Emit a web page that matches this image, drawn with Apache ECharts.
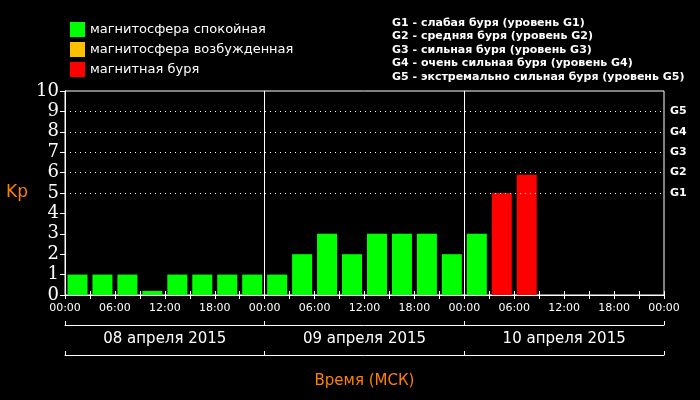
<!DOCTYPE html>
<html>
<head>
<meta charset="utf-8">
<script src="https://cdn.jsdelivr.net/npm/echarts@6/dist/echarts.min.js"></script>
<style>
  html, body { margin: 0; padding: 0; background: #000; }
  #chart { width: 700px; height: 400px; }
</style>
</head>
<body>
<div id="chart"></div>
<script>
// часы начала интервалов (3-часовые) с 00:00 08.04.2015
var hours = [0, 3, 6, 9, 12, 15, 18, 21, 24, 27, 30, 33, 36, 39, 42, 45, 48, 51, 54];
var kp = [1, 1, 1, 0.2, 1, 1, 1, 1, 1, 2, 3, 2, 3, 3, 3, 2, 3, 5, 5.9];
var dates = ['08 апреля 2015', '09 апреля 2015', '10 апреля 2015'];
var stormLevels = ['G1', 'G2', 'G3', 'G4', 'G5'];
var stormKp = [5, 6, 7, 8, 9];
var dayBounds = [24, 48];
var legendNames = ['магнитосфера спокойная', 'магнитосфера возбужденная', 'магнитная буря'];
var legendColors = ['#00ff00', '#ffc000', '#ff0000'];
var stormNotes = [
    'G1 - слабая буря (уровень G1)',
    'G2 - средняя буря (уровень G2)',
    'G3 - сильная буря (уровень G3)',
    'G4 - очень сильная буря (уровень G4)',
    'G5 - экстремально сильная буря (уровень G5)'
];

var chart = echarts.init(document.getElementById('chart'));

function bucket(test) {
    var out = [];
    for (var i = 0; i < kp.length; i++) {
        if (test(kp[i])) out.push([hours[i] + 1.5, kp[i]]);
    }
    return out;
}
var quiet = bucket(function (v) { return v < 4; });
var active = bucket(function (v) { return v >= 4 && v < 5; });
var storm = bucket(function (v) { return v >= 5; });

var levelLines = [];
for (var i = 0; i < stormKp.length; i++) levelLines.push({ yAxis: stormKp[i] });
var dayLines = [];
for (var j = 0; j < dayBounds.length; j++) dayLines.push({ xAxis: dayBounds[j] });

var font = 'DejaVu Sans';

var option = {
    backgroundColor: '#000',
    animation: false,
    textStyle: { fontFamily: font },
    legend: {
        orient: 'vertical',
        left: 65, top: 17,
        itemWidth: 15, itemHeight: 15, itemGap: 5,
        icon: 'rect',
        selectedMode: false,
        textStyle: { color: '#fff', fontSize: 13, fontFamily: font },
        data: legendNames
    },
    graphic: [{
        type: 'text', left: 392, top: 16,
        style: {
            text: stormNotes.join('\n'), fill: '#fff',
            font: 'bold 11px "DejaVu Sans"', lineHeight: 13.5
        }
    }],
    grid: { left: 65, right: 36, top: 91, bottom: 105, show: true, borderColor: '#fff', borderWidth: 1 },
    xAxis: [
        {
            type: 'value', min: 0, max: 72, interval: 3,
            axisLine: { lineStyle: { color: '#fff' } },
            axisTick: { inside: true, length: 4, lineStyle: { color: '#fff' } },
            axisLabel: {
                color: '#fff', fontSize: 11, margin: 8, showMinLabel: true, showMaxLabel: true,
                formatter: function (v) {
                    if (v % 6) return '';
                    var h = v % 24;
                    return (h < 10 ? '0' : '') + h + ':00';
                }
            },
            splitLine: { show: false }
        },
        {
            type: 'value', min: 0, max: 72, interval: 3, position: 'top',
            axisLine: { lineStyle: { color: '#fff' } },
            axisTick: { inside: true, length: 4, lineStyle: { color: '#fff' } },
            axisLabel: { show: false }, splitLine: { show: false }
        },
        {
            type: 'category', data: dates, position: 'bottom', offset: 30,
            axisLine: { show: true, lineStyle: { color: '#fff' } },
            axisTick: { show: true, inside: true, length: 4, lineStyle: { color: '#fff' } },
            axisLabel: { color: '#fff', fontSize: 15, margin: 7 }
        },
        {
            type: 'category', data: dates, position: 'bottom', offset: 60,
            axisLine: { show: true, lineStyle: { color: '#fff' } },
            axisTick: { show: true, inside: true, length: 4, lineStyle: { color: '#fff' } },
            axisLabel: { show: false },
            name: 'Время (МСК)', nameLocation: 'middle', nameGap: 19,
            nameTextStyle: { color: '#ff8000', fontSize: 15 }
        }
    ],
    yAxis: [
        {
            type: 'value', min: 0, max: 10, interval: 1,
            axisLine: { show: true, lineStyle: { color: '#fff' } },
            axisTick: { show: false },
            axisLabel: { color: '#fff', fontSize: 18, fontFamily: 'DejaVu Serif', margin: 6 },
            splitLine: { show: false },
            name: 'Kp', nameLocation: 'middle', nameRotate: 0, nameGap: 37,
            nameTextStyle: { color: '#ff8000', fontSize: 17 }
        },
        {
            type: 'value', min: 0, max: 10, interval: 1, position: 'right',
            axisLine: { show: true, lineStyle: { color: '#fff' } },
            axisTick: { show: true, inside: true, length: 5, lineStyle: { color: '#fff' } },
            axisLabel: {
                color: '#fff', fontSize: 11, fontWeight: 'bold', margin: 6,
                formatter: function (v) {
                    var k = stormKp.indexOf(v);
                    return k >= 0 ? stormLevels[k] : '';
                }
            },
            splitLine: { show: false }
        }
    ],
    series: [
        {
            name: legendNames[0], type: 'bar', data: quiet, barWidth: 20, barGap: '-100%',
            itemStyle: { color: legendColors[0] },
            markLine: {
                silent: true, symbol: 'none', label: { show: false },
                lineStyle: { color: '#fff', type: [1, 4], width: 1 },
                data: levelLines
            }
        },
        {
            name: legendNames[1], type: 'bar', data: active, barWidth: 20, barGap: '-100%',
            itemStyle: { color: legendColors[1] }
        },
        {
            name: legendNames[2], type: 'bar', data: storm, barWidth: 20, barGap: '-100%',
            itemStyle: { color: legendColors[2] },
            markLine: {
                silent: true, symbol: 'none', label: { show: false },
                lineStyle: { color: '#fff', type: 'solid', width: 1 },
                data: dayLines
            }
        }
    ]
};
chart.setOption(option);
</script>
</body>
</html>
